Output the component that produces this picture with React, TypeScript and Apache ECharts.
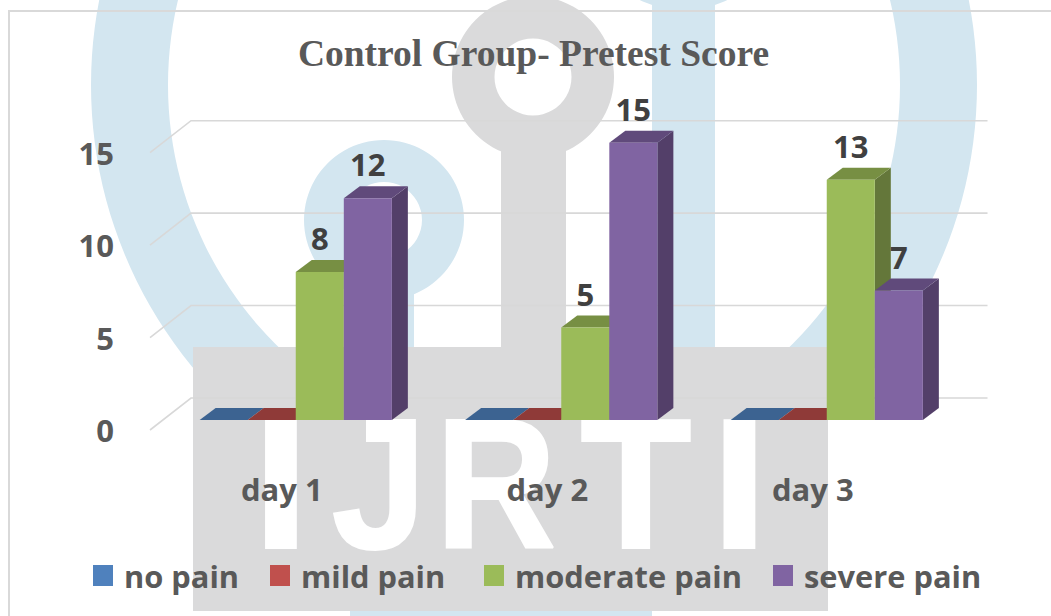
import React, { useEffect, useRef } from "react";
import * as echarts from "echarts";

const categories = ["day 1", "day 2", "day 3"];
const legendNames = ["no pain", "mild pain", "moderate pain", "severe pain"];
const legendLefts = [93, 270, 484, 773];
const noPain = [0, 0, 0];
const mildPain = [0, 0, 0];
const moderatePain = [8, 5, 13];
const severePain = [12, 15, 7];
const gridValues = [0, 5, 10, 15];

const BLUE = "#d3e6f0";
const GRAY = "#dadadb";
const FONT = "'Open Sans'";
const DEPTH_X = 16;
const DEPTH_Y = 12;

function barSeries(name: string, values: number[], index: number, front: string, top: string, side: string) {
  return {
    type: "custom",
    name,
    z: 3 + index,
    itemStyle: { color: front },
    encode: { x: 0, y: 1 },
    data: values.map((v, i) => [i, v]),
    renderItem: (_p: any, api: any) => {
      const cat = api.value(0);
      const val = api.value(1);
      const [cx, yTop] = api.coord([cat, val]);
      const [, yBase] = api.coord([cat, 0]);
      const w = api.size([1, 0])[0] * 0.181;
      const x0 = cx + (index - 2) * w;
      const x1 = x0 + w;
      const children: any[] = [];
      if (val > 0) {
        children.push({
          type: "polygon",
          shape: { points: [[x1, yTop], [x1 + DEPTH_X, yTop - DEPTH_Y], [x1 + DEPTH_X, yBase - DEPTH_Y], [x1, yBase]] },
          style: { fill: side },
        });
      }
      children.push({
        type: "polygon",
        shape: { points: [[x0, yTop], [x1, yTop], [x1 + DEPTH_X, yTop - DEPTH_Y], [x0 + DEPTH_X, yTop - DEPTH_Y]] },
        style: { fill: top },
      });
      if (val > 0) {
        children.push({
          type: "rect",
          shape: { x: x0, y: yTop, width: w, height: yBase - yTop },
          style: { fill: front },
        });
        children.push({
          type: "text",
          z2: 50,
          style: {
            text: String(val),
            x: (x0 + x1) / 2,
            y: yTop - 34,
            font: `bold 31px ${FONT}`,
            fill: "#404040",
            textAlign: "center",
            textVerticalAlign: "middle",
          },
        });
      }
      return { type: "group", children };
    },
  };
}

const letter = (text: string, x: number, scaleX: number) => ({
  type: "text",
  x,
  y: 483,
  scaleX,
  style: {
    text,
    font: "bold 186px 'Liberation Sans'",
    fill: "#ffffff",
    stroke: "#ffffff",
    lineWidth: 2,
    textAlign: "center",
    textVerticalAlign: "middle",
  },
});

export default function App() {
  const ref = useRef<HTMLDivElement>(null);
  useEffect(() => {
    const chart = echarts.init(ref.current!, null, { renderer: "svg" });
    chart.setOption({
      animation: false,
      backgroundColor: "#ffffff",
      title: {
        text: "Control Group- Pretest Score",
        left: 528.5,
        top: 29,
        textAlign: "center",
        textStyle: {
          fontFamily: "'Liberation Serif'",
          fontWeight: "bold",
          fontSize: 37.5,
          color: "#595959",
        },
      },
      graphic: [
        { type: "ring", shape: { cx: 534, cy: 85, r: 443, r0: 366 }, style: { fill: BLUE } },
        { type: "ring", shape: { cx: 384, cy: 220, r: 80, r0: 38 }, style: { fill: BLUE } },
        { type: "rect", shape: { x: 352, y: 290, width: 62, height: 60 }, style: { fill: BLUE } },
        { type: "ring", shape: { cx: 683.5, cy: -91, r: 101, r0: 60 }, style: { fill: BLUE } },
        { type: "rect", shape: { x: 652, y: 0, width: 63, height: 350 }, style: { fill: BLUE } },
        { type: "rect", shape: { x: 350, y: 600, width: 302, height: 16 }, style: { fill: BLUE } },
        { type: "ring", shape: { cx: 533, cy: 77, r: 81, r0: 38.5 }, style: { fill: GRAY } },
        { type: "rect", shape: { x: 501, y: 150, width: 65, height: 200 }, style: { fill: GRAY } },
        { type: "rect", shape: { x: 193, y: 347, width: 635, height: 264 }, style: { fill: GRAY } },
        letter("I", 281, 1.1),
        letter("J", 379, 0.92),
        letter("R", 496, 0.9),
        letter("T", 636, 0.98),
        letter("I", 739.5, 1.1),
        { type: "line", shape: { x1: 9, y1: 11, x2: 1051, y2: 11 }, style: { stroke: "#d9d9d9", lineWidth: 2 } },
        { type: "line", shape: { x1: 9, y1: 10, x2: 9, y2: 616 }, style: { stroke: "#d9d9d9", lineWidth: 2 } },
      ],
      legend: legendNames.map((name, i) => ({
        left: legendLefts[i],
        top: 560,
        padding: 0,
        itemWidth: 20,
        itemHeight: 21,
        icon: "rect",
        data: [name],
        textStyle: {
          fontFamily: FONT,
          fontWeight: "bold",
          fontSize: 30.8,
          color: "#595959",
          padding: [0, 0, 0, 6],
        },
      })),
      grid: { left: 163, right: 91.5, top: 142.7, bottom: 196 },
      xAxis: {
        type: "category",
        data: categories,
        axisLine: { show: false },
        axisTick: { show: false },
        axisLabel: {
          margin: 53,
          padding: [0, 28, 0, 0],
          fontFamily: FONT,
          fontWeight: "bold",
          fontSize: 31,
          color: "#595959",
        },
      },
      yAxis: {
        type: "value",
        min: 0,
        max: 15,
        interval: 5,
        axisLine: { show: false },
        axisTick: { show: false },
        splitLine: { show: false },
        axisLabel: {
          margin: 49,
          verticalAlign: "top",
          lineHeight: 20,
          fontFamily: FONT,
          fontWeight: "bold",
          fontSize: 31,
          color: "#595959",
        },
      },
      series: [
        {
          type: "custom",
          name: "walls",
          z: 2,
          encode: { x: 0, y: 1 },
          data: gridValues.map((v) => [0, v]),
          renderItem: (p: any, api: any) => {
            const y = api.coord([0, api.value(1)])[1];
            const cs = p.coordSys;
            const style = { stroke: "#d8d8d8", lineWidth: 1.6, fill: "none" };
            return {
              type: "polyline",
              shape: {
                points: [[cs.x - 13, y + 10], [cs.x + 28, y - 22], [cs.x + cs.width + 28, y - 22]],
              },
              style,
            };
          },
        },
        barSeries("no pain", noPain, 0, "#4f81bd", "#3c6391", "#3c6391"),
        barSeries("mild pain", mildPain, 1, "#c0504d", "#8f3a38", "#8f3a38"),
        barSeries("moderate pain", moderatePain, 2, "#9bbb59", "#778f43", "#64773a"),
        barSeries("severe pain", severePain, 3, "#8064a2", "#604a7b", "#533f69"),
      ],
    });
    return () => chart.dispose();
  }, []);
  return <div ref={ref} style={{ position: "fixed", left: 0, top: 0, width: 1051, height: 616 }} />;
}
